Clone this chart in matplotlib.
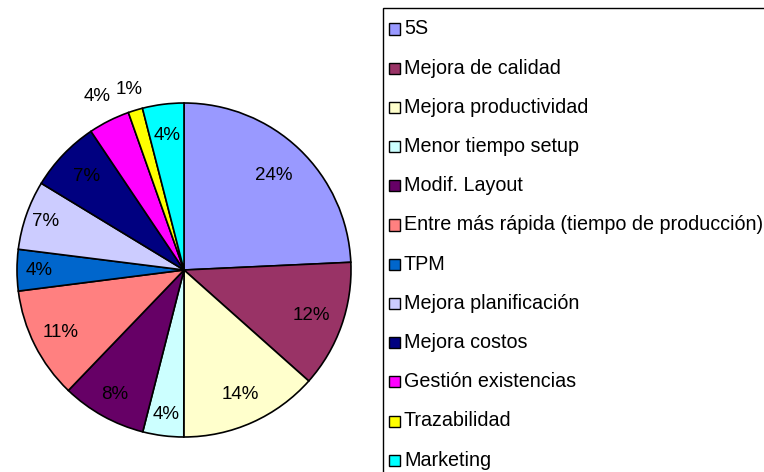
import matplotlib.pyplot as plt
from matplotlib.patches import Rectangle
import numpy as np

plt.rcParams['font.family'] = ['Liberation Sans', 'DejaVu Sans']

# Data (slice sizes)
categories = ['5S', 'Mejora de calidad', 'Mejora productividad', 'Menor tiempo setup',
              'Modif. Layout', 'Entre más rápida (tiempo de producción)', 'TPM',
              'Mejora planificación', 'Mejora costos', 'Gestión existencias',
              'Trazabilidad', 'Marketing']
shares = [24.25, 12.3, 13.44, 3.95, 8.2, 10.8, 4.0, 6.7, 6.9, 4.0, 1.4, 4.0]
pct_labels = ['24%', '12%', '14%', '4%', '8%', '11%', '4%', '7%', '7%', '4%', '1%', '4%']

colors = ['#9999FF', '#993366', '#FFFFCC', '#CCFFFF', '#660066', '#FF8080',
          '#0066CC', '#CCCCFF', '#000080', '#FF00FF', '#FFFF00', '#00FFFF']
# distance of each percentage label from the centre (fraction of radius)
label_r = [0.78, 0.81, 0.82, 0.87, 0.85, 0.83, 0.87, 0.88, 0.81, 1.16, 1.13, 0.81]

W, H = 764, 472
fig = plt.figure(figsize=(W / 100, H / 100), dpi=100)
fig.patch.set_facecolor('white')

cx, cy, r = 184, 270, 167
ax = fig.add_axes([(cx - r) / W, (H - cy - r) / H, 2 * r / W, 2 * r / H])
wedges, _ = ax.pie(shares, colors=colors, startangle=90, counterclock=False,
                   wedgeprops=dict(edgecolor='black', linewidth=1.2))
ax.set_xlim(-1, 1)
ax.set_ylim(-1, 1)
ax.set_aspect('equal')
ax.axis('off')

for w, txt, d in zip(wedges, pct_labels, label_r):
    ang = np.deg2rad((w.theta1 + w.theta2) / 2)
    ax.text(d * np.cos(ang), d * np.sin(ang), txt, ha='center', va='center',
            fontsize=13.5, color='black')

# Legend box drawn by hand (it runs off the right and bottom edges)
lx, ly = 383, 8
fig.add_artist(Rectangle((lx / W, 0 - 0.01), 1.0, 1 - ly / H + 0.01,
                         transform=fig.transFigure, facecolor='white',
                         edgecolor='black', linewidth=1.0, clip_on=False))
row0, step = 29, 39.2
for i, (name, c) in enumerate(zip(categories, colors)):
    y = row0 + i * step
    fig.add_artist(Rectangle((389 / W, (H - y - 5.5) / H), 11 / W, 11 / H,
                             transform=fig.transFigure, facecolor=c,
                             edgecolor='black', linewidth=1.0))
    fig.text(404 / W, (H - y) / H, name, ha='left', va='center',
             fontsize=14.2, color='black')

fig.savefig('out.png', dpi=100)
